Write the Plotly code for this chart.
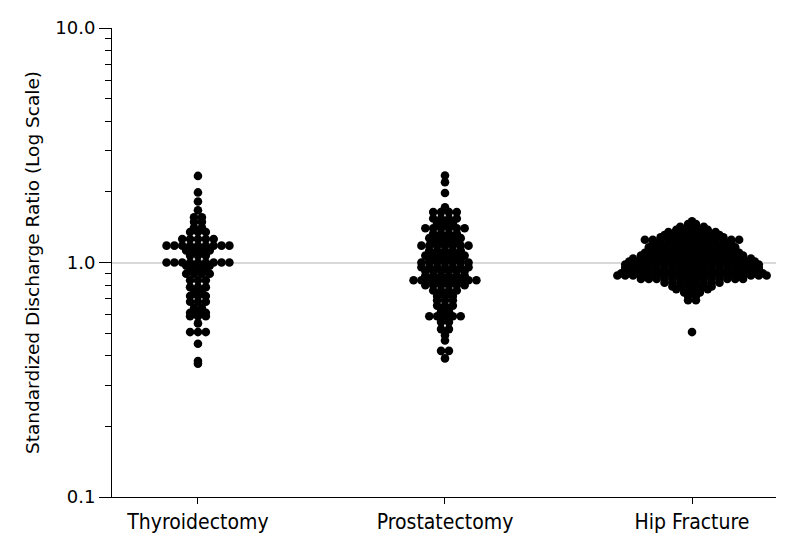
import numpy as np
import plotly.graph_objects as go

categories = ["Thyroidectomy", "Prostatectomy", "Hip Fracture"]

thy_vals = [2.34, 1.99, 1.82, 1.67, 1.56, 1.49, 1.41, 1.35, 1.26, 1.18, 1.125, 1.07,
            1.0, 0.97, 0.93, 0.895, 0.84, 0.785, 0.75, 0.72, 0.68, 0.64, 0.61, 0.59,
            0.55, 0.505, 0.45, 0.38, 0.37]
thy_counts = [1, 1, 1, 1, 2, 2, 2, 3, 5, 9, 4, 3,
              9, 4, 3, 4, 3, 3, 2, 3, 3, 2, 3, 3,
              1, 3, 1, 1, 1]

pro_vals = [2.35, 2.2, 1.98, 1.72, 1.64, 1.54, 1.47, 1.40, 1.33, 1.27, 1.22, 1.18,
            1.125, 1.07, 1.03, 1.0, 0.955, 0.92, 0.88, 0.84, 0.80, 0.76, 0.72, 0.69,
            0.655, 0.62, 0.59, 0.557, 0.52, 0.49, 0.465, 0.42, 0.39]
pro_counts = [1, 1, 1, 1, 4, 4, 3, 6, 4, 5, 4, 7,
              5, 6, 5, 7, 7, 6, 6, 9, 6, 4, 3, 3,
              3, 2, 5, 2, 2, 1, 1, 2, 1]

hip_vals = [1.50, 1.46, 1.42, 1.38, 1.35, 1.31, 1.28, 1.25, 1.22, 1.19, 1.16, 1.13,
            1.10, 1.07, 1.04, 1.01, 0.98, 0.95, 0.92, 0.90, 0.88, 0.85, 0.82, 0.79,
            0.77, 0.745, 0.72, 0.69, 0.505]
hip_counts = [1, 2, 4, 5, 7, 8, 9, 13, 11, 11, 12, 12,
              13, 14, 16, 17, 18, 18, 18, 19, 20, 14, 8, 6,
              5, 3, 2, 2, 1]

y_tickvals = [0.1, 1, 10]
y_ticktext = ["0.1", "1.0", "10.0"]
minor_vals = [0.2, 0.3, 0.4, 0.5, 0.6, 0.7, 0.8, 0.9, 2, 3, 4, 5, 6, 7, 8, 9]

SPACING = 0.0318  # horizontal dot spacing in category units


def swarm(idx, vals, counts):
    xs, ys = [], []
    for v, c in zip(vals, counts):
        for k in range(c):
            xs.append(idx + (k - (c - 1) / 2) * SPACING)
            ys.append(v)
    return xs, ys


fig = go.Figure()
for i, (vals, counts) in enumerate([(thy_vals, thy_counts), (pro_vals, pro_counts),
                                    (hip_vals, hip_counts)]):
    xs, ys = swarm(i, vals, counts)
    fig.add_trace(go.Scatter(x=xs, y=ys, mode="markers",
                             marker=dict(color="black", size=8.6, line=dict(width=0)),
                             showlegend=False, hoverinfo="skip"))

fig.update_layout(
    template="none",
    width=790, height=538,
    margin=dict(l=104, r=22, t=20, b=49),
    paper_bgcolor="white", plot_bgcolor="white",
    font=dict(family="DejaVu Sans", color="black"),
)
fig.update_xaxes(
    range=[-0.348, 2.34], tickvals=[0, 1, 2], ticktext=categories,
    showgrid=False, zeroline=False,
    showline=True, linecolor="black", linewidth=1,
    ticks="outside", ticklen=6, tickcolor="black",
    tickfont=dict(family="DejaVu Sans Condensed, DejaVu Sans", size=21, color="black"),
)
fig.update_yaxes(
    type="log", range=[-1, 1],
    tickvals=y_tickvals, ticktext=y_ticktext,
    showgrid=True, gridcolor="#d9d9d9", gridwidth=1.5,
    zeroline=False,
    showline=True, linecolor="black", linewidth=1,
    ticks="outside", ticklen=12, tickcolor="black",
    tickfont=dict(family="DejaVu Sans", size=18, color="black"),
    minor=dict(tickvals=minor_vals, ticks="outside", ticklen=6, tickcolor="black",
               showgrid=False),
    title=dict(text="Standardized Discharge Ratio (Log Scale)",
               font=dict(family="DejaVu Sans", size=18.5, color="black"), standoff=10),
)

fig.write_html("out.html")
